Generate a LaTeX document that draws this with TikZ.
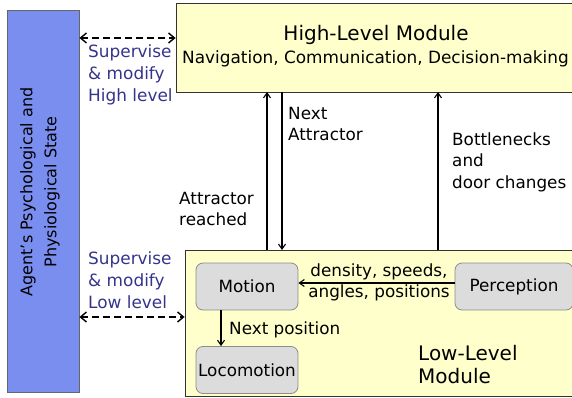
\documentclass[tikz,border=0pt]{standalone}
\usepackage{fontspec}
\setmainfont{DejaVu Sans}
\usetikzlibrary{arrows.meta}
\definecolor{agentblue}{RGB}{122,142,240}
\definecolor{modyellow}{RGB}{255,255,204}
\definecolor{subgray}{RGB}{220,220,220}
\definecolor{labelblue}{RGB}{52,52,140}
\begin{document}
\begin{tikzpicture}[x=1pt,y=-1pt,
  lbl/.style={font=\fontsize{16.8}{21.5}\selectfont, inner sep=0pt, align=left},
  bluelbl/.style={font=\fontsize{16.9}{22}\selectfont, inner sep=0pt, align=left, text=labelblue},
  modbox/.style={draw=black!80, fill=modyellow, line width=0.8pt, inner sep=0pt},
  subbox/.style={draw=black!45, fill=subgray, rounded corners=7pt, line width=0.8pt, inner sep=0pt,
    minimum width=102pt, minimum height=47pt, font=\fontsize{16.8}{20}\selectfont},
  flow/.style={-{Straight Barb[length=5pt,width=7pt]}, line width=1.1pt},
  dash2/.style={{Straight Barb[length=6pt,width=10pt]}-{Straight Barb[length=6pt,width=10pt]}, dash pattern=on 7pt off 4pt, line width=1.4pt}
]
\useasboundingbox (0,0) rectangle (572,398);
% left agent box
\node[draw=black!60, fill=agentblue, line width=0.8pt, minimum width=72pt, minimum height=382pt, inner sep=0pt] (agent) at (43,201) {};
\node[rotate=90, font=\fontsize{16}{24}\selectfont, align=center, inner sep=0pt] (agentlbl) at (40,192) {Agent's Psychological and\\Physiological State};
% high level module
\node[modbox, minimum width=404pt, minimum height=89pt] (high) at (378,47.5) {};
\node[font=\fontsize{20}{24}\selectfont, inner sep=0pt] (hightitle) at (376,35) {High-Level Module};
\node[font=\fontsize{16.9}{20}\selectfont, inner sep=0pt] (highsub) at (375.5,59) {Navigation, Communication, Decision-making};
% low level module
\node[modbox, minimum width=395pt, minimum height=146pt] (low) at (382.5,323) {};
\node[subbox] (motion) at (247,286.5) {Motion};
\node[subbox] (loco) at (247,370) {Locomotion};
\node[subbox, minimum width=118pt] (perc) at (514,286.5) {Perception};
\node[font=\fontsize{20}{23}\selectfont, inner sep=0pt, align=left, anchor=west] (lowtitle) at (418,364.5) {Low-Level\\Module};
% coordinates on module borders
\coordinate (arB) at (267,250);
\coordinate (arT) at (267,92);
\coordinate (naT) at (282,92);
\coordinate (naB) at (282,250);
\coordinate (bnB) at (438,250);
\coordinate (bnT) at (438,92);
% arrows between modules
\draw[flow] (arB) -- (arT);
\draw[flow] (naT) -- (naB);
\draw[flow] (bnB) -- (bnT);
\node[lbl, anchor=west] (natext) at (288,124) {Next\\Attractor};
\node[lbl, anchor=east] (artext) at (254,209) {Attractor\\reached};
\node[lbl, anchor=west] (bntext) at (452,162) {Bottlenecks\\and\\door changes};
% inside low level
\draw[flow] (perc.west |- 0,283) -- (motion.east |- 0,283);
\node[lbl, align=center, anchor=center] (perctext) at (379,282.5) {density, speeds,\\angles, positions};
\draw[flow] (motion.south -| 221,0) -- (loco.north -| 221,0);
\node[lbl, anchor=west] (nptext) at (229,330) {Next position};
% dashed supervise arrows
\coordinate (hiL) at (80,38);
\coordinate (loL) at (80,317);
\draw[dash2] (agent.east |- hiL) -- (high.west |- hiL);
\draw[dash2] (agent.east |- loL) -- (low.west |- loL);
\node[bluelbl, anchor=west] (suphi) at (88,75) {Supervise\\\& modify\\High level};
\node[bluelbl, anchor=west] (suplo) at (88,280) {Supervise\\\& modify\\Low level};
\end{tikzpicture}
\end{document}
